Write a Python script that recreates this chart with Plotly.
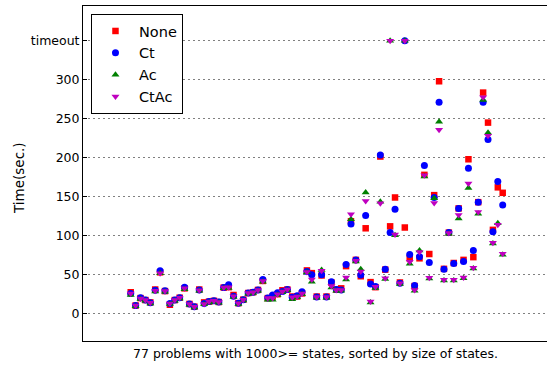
import plotly.graph_objects as go

problems = list(range(1, 78))

none_t = [27.5, 10.5, 20, 17.5, 14.5, 31, 53, 29, 11.5, 17.5,
          20.5, 32.5, 12.5, 9, 31, 14.5, 15.5, 16.5, 15, 33.5,
          34, 24, 13.5, 18, 26.5, 27.5, 30.5, 42, 20, 22,
          25, 30, 31, 22, 22, 26, 55.5, 52, 22, 49,
          22, 40, 31, 32.5, 61, 118.5, 69, 48, 109.5, 40.5,
          34, 201.5, 56.5, 112, 149, 40, 110.5, 71, 35.5, 71,
          178, 76.5, 152, 298, 57.5, 104, 65, 135, 69, 198,
          72.5, 143, 283.5, 245, 107.5, 162, 155]
ct_t = [26, 10.5, 20.5, 17.5, 14, 30, 55, 29.5, 13, 17.5,
        20.5, 34, 12.5, 9, 30.5, 13, 15.5, 16.5, 15, 33.5,
        37, 22.5, 13.5, 18, 26.5, 27.5, 30.5, 44, 20, 24,
        27, 28.5, 31, 21, 23, 28, 54, 50, 21.5, 50,
        21.5, 41, 31, 30.5, 63, 115, 69, 49.5, 126, 38,
        35, 203.5, 57, 104, 134, 39, 350, 76, 36, 73,
        190, 65.5, 149, 271, 57, 104, 64.5, 135, 67, 186.5,
        81, 143, 271, 223.5, 105, 169.5, 139.5]
ac_t = [24, 9.5, 19, 16.5, 13, 28.5, 52, 28, 12.5, 16.5,
        19.5, 31.5, 11.5, 8, 29.5, 12, 14.5, 15.5, 14, 32.5,
        33, 21.5, 12.5, 17, 25.5, 26.5, 29.5, 41, 18, 18,
        24, 27.5, 30, 18.5, 21, 25, 53, 41, 20.5, 56,
        20.5, 33.5, 29.5, 29.5, 44, 121, 67, 57, 155.5, 14.5,
        33, 143.5, 44.5, 350, 100.5, 38, 350, 64, 29.5, 81,
        176, 45, 148, 246, 42.5, 102.5, 42.5, 122, 45.5, 161,
        58, 128, 274, 232, 90, 116, 75.5]
ctac_t = [26, 10.5, 19.5, 17.5, 14, 29.5, 52, 29, 13, 17.5,
          20.5, 32.5, 12.5, 9, 30, 12.5, 15.5, 16.5, 15, 33.5,
          34, 22.5, 13.5, 18, 26.5, 27.5, 30.5, 42, 20, 20,
          25, 28.5, 31, 21, 22, 26, 53.5, 44, 21.5, 55,
          21.5, 35.5, 30.5, 30.5, 46.5, 127.5, 68, 54, 144.5, 15.5,
          34.5, 141.5, 45.5, 350, 101.5, 39, 350, 66.5, 30.5, 79,
          177.5, 46, 142, 236, 43.5, 103.5, 43.5, 126.5, 46.5, 167,
          59, 130.5, 277.5, 228, 91, 114, 77]

series_names = ["None", "Ct", "Ac", "CtAc"]
series_vals = [none_t, ct_t, ac_t, ctac_t]
colors = ["#FF0000", "#0000FF", "#008000", "#BF00BF"]
symbols = ["square", "circle", "triangle-up", "triangle-down"]
sizes = [6.5, 7, 7, 7]

y_tickvals = [0, 50, 100, 150, 200, 250, 300, 350]
y_ticktext = ["0", "50", "100", "150", "200", "250", "300", "timeout"]

fig = go.Figure()
for name, vals, c, s, sz in zip(series_names, series_vals, colors, symbols, sizes):
    fig.add_trace(go.Scatter(
        x=problems, y=vals, mode="markers", name=name,
        marker=dict(color=c, symbol=s, size=sz, line=dict(width=0)),
    ))

FONT = "DejaVu Sans"
fig.update_layout(
    width=547, height=365,
    margin=dict(l=83, r=0, t=6, b=24),
    paper_bgcolor="white", plot_bgcolor="white",
    font=dict(family=FONT, size=12.5, color="black"),
    showlegend=True,
    legend=dict(
        x=0.0172, y=0.976, xanchor="left", yanchor="top",
        bgcolor="white", bordercolor="black", borderwidth=1,
        font=dict(family=FONT, size=14.5, color="black"),
        itemsizing="trace", itemwidth=37, tracegroupgap=0,
    ),
    xaxis=dict(
        range=[-8.75, 86.05], showgrid=False, zeroline=False,
        showticklabels=False, ticks="",
        showline=True, linecolor="black", linewidth=1, mirror=True,
    ),
    yaxis=dict(
        range=[-35, 394.5], tickvals=y_tickvals, ticktext=y_ticktext,
        ticks="inside", ticklen=4, tickcolor="black", tickwidth=1,
        showline=True, linecolor="black", linewidth=1, mirror=False,
        showgrid=True, gridcolor="#808080", gridwidth=1, griddash="2px,3px",
        zeroline=False,
        tickfont=dict(family=FONT, size=12.5, color="black"),
    ),
    annotations=[
        dict(text="77 problems with 1000>= states, sorted by size of states.",
             xref="paper", yref="paper", x=0.5, y=-(353 - 341) / 335,
             xanchor="center", yanchor="middle", showarrow=False,
             font=dict(family=FONT, size=12.5, color="black")),
        dict(text="Time(sec.)", textangle=-90,
             xref="paper", yref="paper", x=-(83 - 19) / 464, y=(341 - 178) / 335,
             xanchor="center", yanchor="middle", showarrow=False,
             font=dict(family=FONT, size=13.5, color="black")),
    ],
)

fig.write_html("out.html")
